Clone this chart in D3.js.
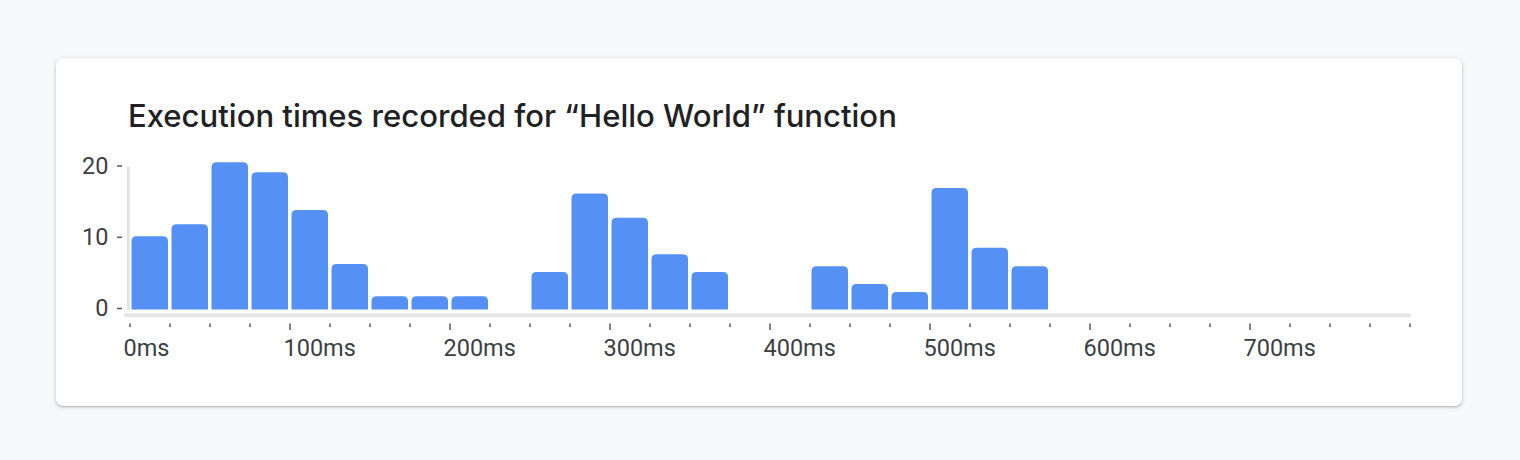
<!DOCTYPE html>
<html>
<head>
<meta charset="utf-8">
<script src="https://cdn.jsdelivr.net/npm/d3@7"></script>
<style>
  html, body { margin: 0; padding: 0; background: #f8f9fa; width: 1520px; height: 460px; overflow: hidden; }
  #card { position: absolute; left: 56px; top: 58px; width: 1406px; height: 348px; background: #fff; border-radius: 7px;
          box-shadow: 0 1px 2px rgba(60,64,67,0.30), 0 1px 4px 1px rgba(60,64,67,0.12); }
  svg { position: absolute; left: 0; top: 0; }
</style>
</head>
<body>
<div id="card"></div>
<svg id="chart" width="1520" height="460"></svg>
<script>
const title = "Execution times recorded for \u201CHello World\u201D function";
// histogram bins: start (ms), bin width 25 ms
const binStarts = [0, 25, 50, 75, 100, 125, 150, 175, 200, 225, 250, 275, 300, 325, 350, 375, 400, 425, 450, 475, 500, 525, 550];
const counts    = [10.2, 11.9, 20.6, 19.2, 13.9, 6.3, 1.8, 1.8, 1.8, 0, 5.2, 16.2, 12.8, 7.7, 5.2, 0, 0, 6.0, 3.5, 2.4, 17.0, 8.6, 6.0];
const binWidth = 25;
const xMajorTicks = [0, 100, 200, 300, 400, 500, 600, 700];
const xTickLabels = ["0ms", "100ms", "200ms", "300ms", "400ms", "500ms", "600ms", "700ms"];
const xMinorStep = 25;
const xDomain = [0, 800];
const yTicks = [0, 10, 20];
const yTickLabels = ["0", "10", "20"];

const svg = d3.select("#chart");
const x = d3.scaleLinear().domain(xDomain).range([130, 1410]);
const y = d3.scaleLinear().domain([0, 20]).range([309, 166.5]);

const labelFont = "Roboto, 'Liberation Sans', sans-serif";
const textColor = "#3c4043";

// title
const t = svg.append("text")
  .attr("x", 128).attr("y", 127)
  .attr("font-family", "Inter, 'Open Sans', sans-serif")
  .attr("font-weight", 500)
  .attr("font-size", 28)
  .attr("fill", "#202124")
  .text(title);
// fit the title width to the reference layout
const targetW = 769;
const w0 = t.node().getComputedTextLength();
t.attr("font-size", 28 * targetW / w0);

// y axis line
svg.append("line")
  .attr("x1", 128.3).attr("x2", 128.3)
  .attr("y1", y(20)).attr("y2", y(0) + 1)
  .attr("stroke", "#e3e3e3").attr("stroke-width", 3);

// x axis line
svg.append("line")
  .attr("x1", x(0) - 4).attr("x2", x(800) - 1)
  .attr("y1", 315.3).attr("y2", 315.3)
  .attr("stroke", "#e3e3e3").attr("stroke-width", 4).attr("stroke-linecap", "round");

// bars with rounded top corners
const r = 5;
function barPath(d, i) {
  const x0 = x(d) + 1.5, x1 = x(d + binWidth) - 2;
  const yt = y(counts[i]), yb = y(0) + 0.5;
  const rr = Math.min(r, (yb - yt));
  return `M${x0},${yb} L${x0},${yt + rr} Q${x0},${yt} ${x0 + rr},${yt} L${x1 - rr},${yt} Q${x1},${yt} ${x1},${yt + rr} L${x1},${yb} Z`;
}
svg.append("g").selectAll("path")
  .data(binStarts)
  .join("path")
  .filter((d, i) => counts[i] > 0)
  .attr("d", (d) => barPath(d, binStarts.indexOf(d)))
  .attr("fill", "#5591f4");

// x ticks (minor + major)
const minor = d3.range(xDomain[0], xDomain[1] + 1, xMinorStep);
svg.append("g").selectAll("line")
  .data(minor)
  .join("line")
  .attr("x1", d => x(d)).attr("x2", d => x(d))
  .attr("y1", 323.5)
  .attr("y2", d => (d % 100 === 0 && d !== 0 && d !== 800) ? 330 : 327)
  .attr("stroke", "#5f6368").attr("stroke-width", 1.6);

// x labels
svg.append("g").selectAll("text")
  .data(xMajorTicks)
  .join("text")
  .attr("x", d => x(d) - 6.5)
  .attr("y", 356)
  .attr("font-family", labelFont)
  .attr("font-size", 23.5)
  .attr("fill", textColor)
  .text((d, i) => xTickLabels[i]);

// y ticks
svg.append("g").selectAll("line")
  .data(yTicks)
  .join("line")
  .attr("x1", 117).attr("x2", 122)
  .attr("y1", d => y(d) - 0.5).attr("y2", d => y(d) - 0.5)
  .attr("stroke", "#5f6368").attr("stroke-width", 1.6);

svg.append("g").selectAll("text")
  .data(yTicks)
  .join("text")
  .attr("x", 108.5)
  .attr("y", d => y(d) + 7)
  .attr("text-anchor", "end")
  .attr("font-family", labelFont)
  .attr("font-size", 23.5)
  .attr("fill", textColor)
  .text((d, i) => yTickLabels[i]);
</script>
</body>
</html>
